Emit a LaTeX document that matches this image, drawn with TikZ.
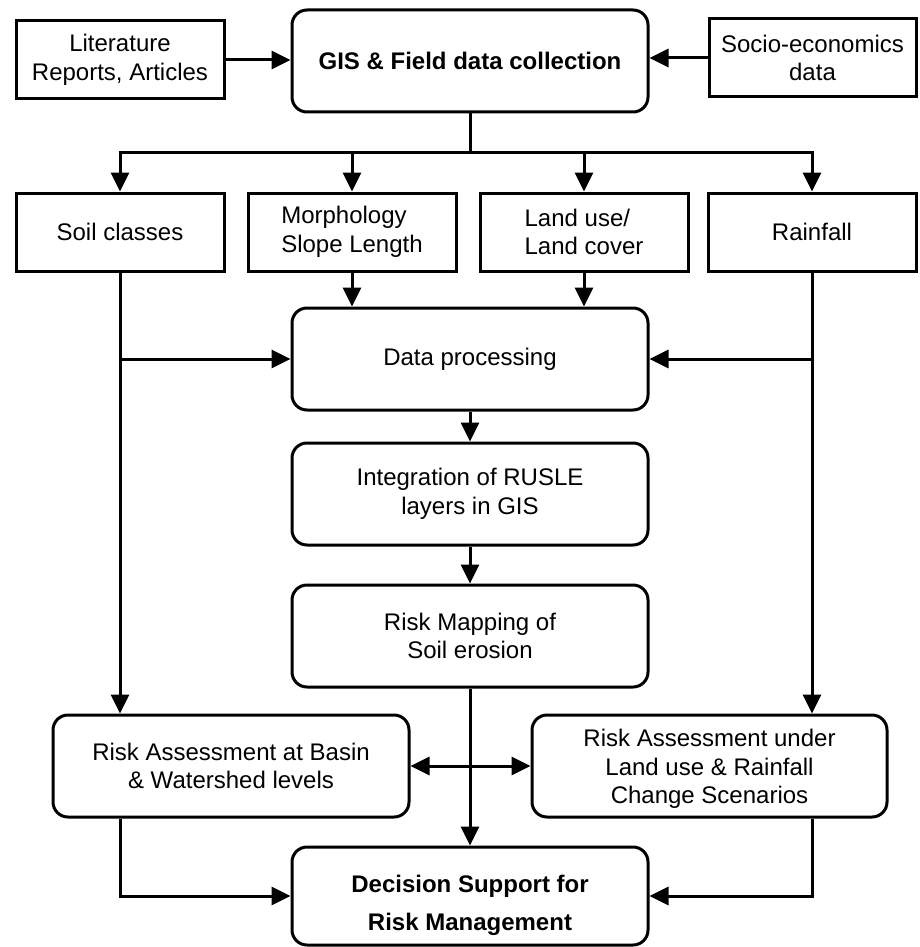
\documentclass[tikz,border=0pt]{standalone}
\usepackage{fontspec}
\setmainfont{Liberation Sans}
\usetikzlibrary{arrows.meta}
\begin{document}
\begin{tikzpicture}[x=1pt,y=-1pt,
  txt/.style={font=\fontsize{24}{28.5}\selectfont},
  btxt/.style={font=\fontsize{24}{38}\selectfont\bfseries},
  sqbox/.style={draw, line width=3pt, txt, align=center, inner sep=0pt, minimum width=208pt, minimum height=78pt},
  rbox/.style={draw, line width=3pt, txt, align=center, inner sep=0pt, rounded corners=15pt, minimum width=356pt, minimum height=102pt},
  conn/.style={line width=3pt},
  arr/.style={conn, -{Triangle[length=19pt,width=18pt]}},
  darr/.style={conn, {Triangle[length=19pt,width=18pt]}-{Triangle[length=19pt,width=18pt]}},
]
\useasboundingbox (0,0) rectangle (919,947);

\node[sqbox] (lit) at (120,60) {Literature\\Reports, Articles};
\node[rbox, btxt] (gis) at (470,61) {GIS \& Field data collection};
\node[sqbox, minimum width=207pt] (soc) at (812.5,58) {Socio-economics\\data};

\node[sqbox] (soil) at (120,232) {Soil classes};
\node[sqbox, align=left] (morph) at (352,232) {Morphology\\Slope Length};
\node[sqbox, align=left] (land) at (584,232) {Land use/\\Land cover};
\node[sqbox] (rain) at (812,232) {Rainfall};

\node[rbox] (dp) at (470,359) {Data processing};
\node[rbox] (integ) at (470,494) {Integration of RUSLE\\layers in GIS};
\node[rbox] (rmap) at (470,636) {Risk Mapping of\\Soil erosion};

\node[rbox] (basin) at (231,766) {Risk Assessment at Basin\\\& Watershed levels};
\node[rbox, minimum width=355pt] (under) at (709.5,766) {\rule{0pt}{23pt}Risk Assessment under\\Land use \& Rainfall\\Change Scenarios};

\node[rbox, btxt, minimum height=98pt] (dec) at (470,896) {\rule{0pt}{36pt}Decision Support for\\Risk Management};

% top inputs
\draw[arr] (lit.east) -- (lit.east -| gis.west);
\draw[arr] (soc.west) -- (soc.west -| gis.east);

% distribution bus
\coordinate (bus) at (470,152);
\draw[conn] (gis.south) -- (bus);
\draw[arr] (bus) -| (soil.north);
\draw[arr] (bus) -| (morph.north);
\draw[arr] (bus) -| (land.north);
\draw[arr] (bus) -| (rain.north);

% into data processing
\draw[arr] (morph.south) -- (morph.south |- dp.north);
\draw[arr] (land.south) -- (land.south |- dp.north);
\draw[arr] (soil.south) -- (soil.south |- basin.north);
\draw[arr] (soil.south |- dp.west) -- (dp.west);
\draw[arr] (rain.south) -- (rain.south |- under.north);
\draw[arr] (rain.south |- dp.east) -- (dp.east);

% central chain
\draw[arr] (dp.south) -- (integ.north);
\draw[arr] (integ.south) -- (rmap.north);
\draw[arr] (rmap.south) -- (dec.north);

% assessments
\draw[darr] (basin.east) -- (basin.east -| under.west);
\draw[arr] (soil.south |- basin.south) |- (dec.west);
\draw[arr] (rain.south |- under.south) |- (dec.east);
\end{tikzpicture}
\end{document}
